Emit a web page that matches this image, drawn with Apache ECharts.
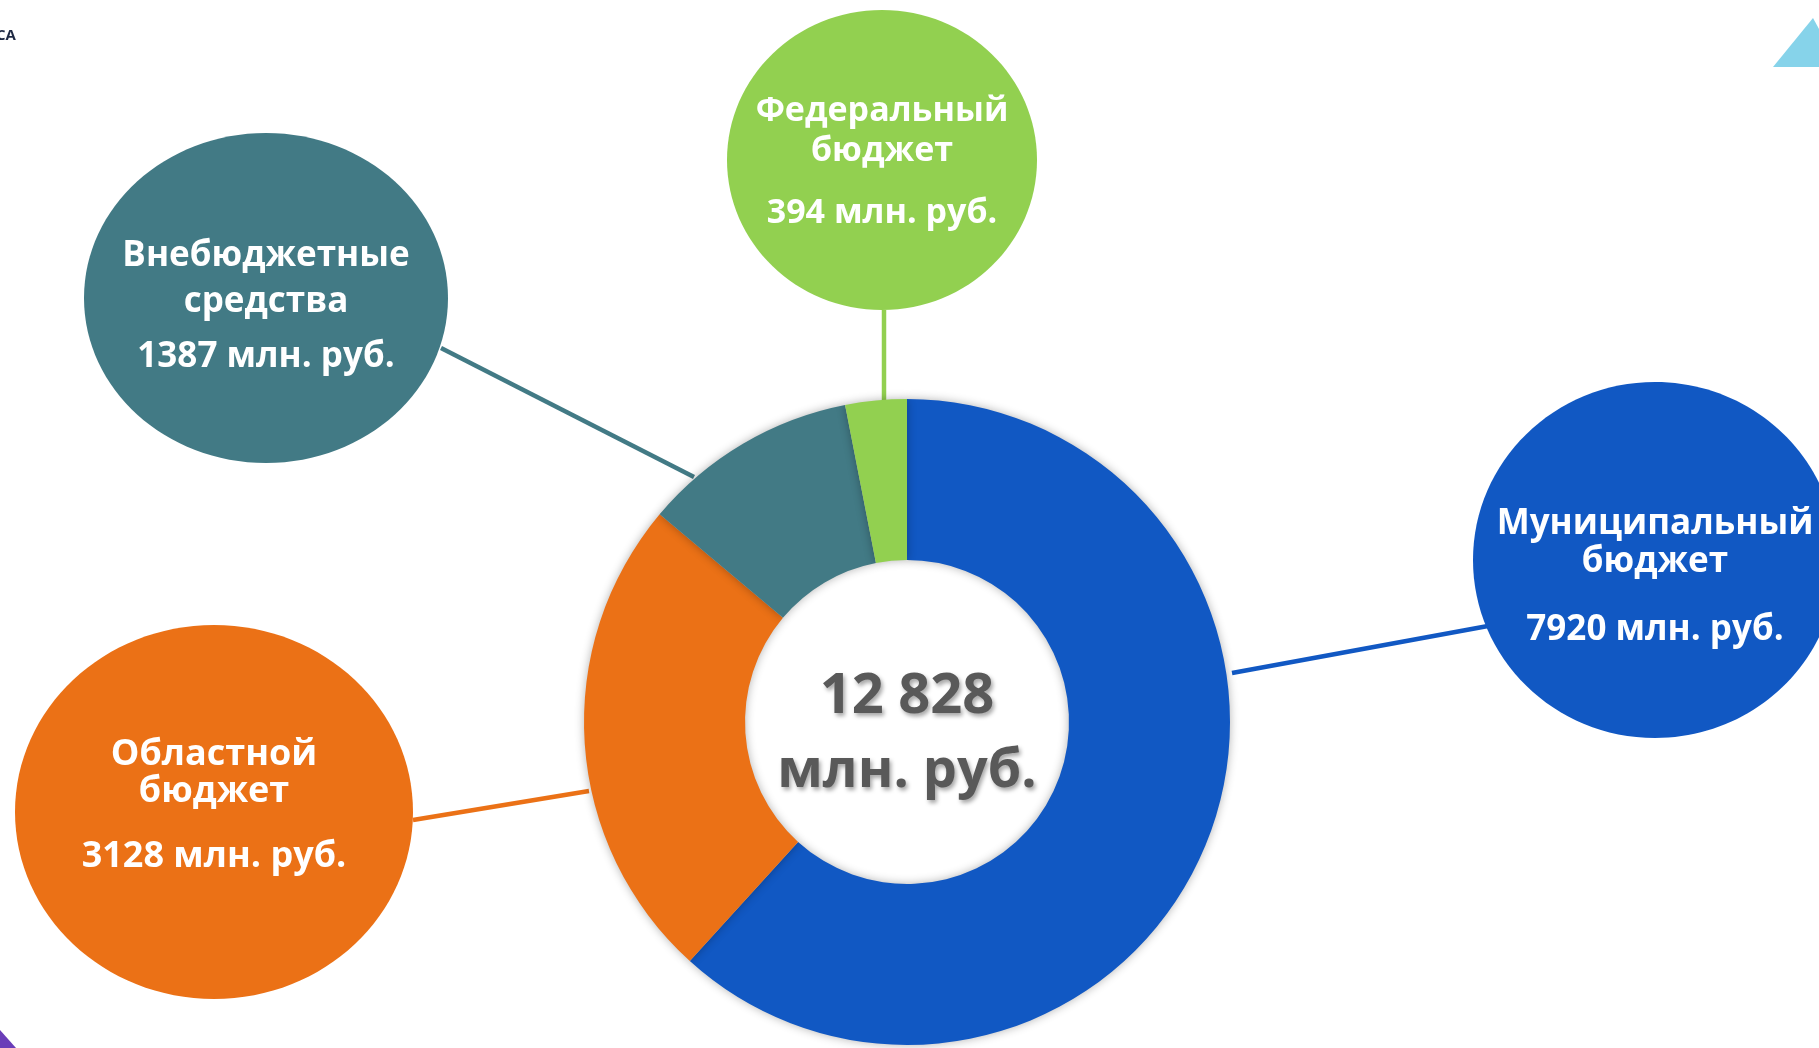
<!DOCTYPE html>
<html><head><meta charset="utf-8">
<script src="https://cdn.jsdelivr.net/npm/echarts@6/dist/echarts.min.js"></script>
<style>html,body{margin:0;padding:0;background:#fff;}#c{width:1819px;height:1048px;}</style>
</head><body><div id="c"></div>
<script>
// ---- data ----
const categories = ['Муниципальный бюджет', 'Областной бюджет', 'Внебюджетные средства', 'Федеральный бюджет'];
const nameLine1 = ['Муниципальный', 'Областной', 'Внебюджетные', 'Федеральный'];
const nameLine2 = ['бюджет', 'бюджет', 'средства', 'бюджет'];
const values = [7920, 3128, 1387, 394];
const unit = 'млн. руб.';
const totalLabel = '12 828';
const colors = ['#1158C3', '#EB7116', '#427A85', '#92D050'];

// ---- layout (positions/sizes) ----
const C = [907, 722], R0 = 162, R1 = 323;
const bubbles = [
  {cx: 1655, cy: 560, rx: 182, ry: 178, y: [524, 562, 630], fs: 35, line: [1232, 673, 1488, 626]},
  {cx: 214, cy: 812, rx: 199, ry: 187, y: [755, 792, 857], fs: 36, line: [413, 820, 589, 791]},
  {cx: 266, cy: 298, rx: 182, ry: 165, y: [256, 302, 357], fs: 35, line: [441, 348, 694, 477]},
  {cx: 882, cy: 160, rx: 155, ry: 150, y: [111, 151, 213], fs: 34, line: [884, 310, 884, 402]}
];
const FONT = '"Open Sans", "Noto Sans", sans-serif';

const graphics = [];
bubbles.forEach((b, i) => {
  graphics.push({type: 'line', z: 1, shape: {x1: b.line[0], y1: b.line[1], x2: b.line[2], y2: b.line[3]},
    style: {stroke: colors[i], lineWidth: 4.5}});
  graphics.push({type: 'ellipse', z: 2, shape: {cx: b.cx, cy: b.cy, rx: b.rx, ry: b.ry}, style: {fill: colors[i]}});
  const lines = [nameLine1[i], nameLine2[i], values[i] + ' ' + unit];
  lines.forEach((t, k) => {
    graphics.push({type: 'text', z: 3, x: b.cx, y: b.y[k],
      style: {text: t, fill: '#fff', fontSize: b.fs, fontWeight: 'bold', fontFamily: FONT, align: 'center', verticalAlign: 'middle'}});
  });
});
// center total
const centerStyle = {fill: '#595959', fontWeight: 'bold', fontFamily: FONT, align: 'center', verticalAlign: 'middle',
  textShadowColor: 'rgba(0,0,0,0.35)', textShadowBlur: 4, textShadowOffsetX: 2, textShadowOffsetY: 3};
graphics.push({type: 'text', z: 5, x: C[0], y: 697, style: Object.assign({text: totalLabel, fontSize: 56}, centerStyle)});
graphics.push({type: 'text', z: 5, x: C[0], y: 772, style: Object.assign({text: unit, fontSize: 54}, centerStyle)});
// small page decorations
graphics.push({type: 'text', z: 3, x: -4, y: 36, style: {text: 'СА', fill: '#1f2a44', fontSize: 15, fontWeight: 'bold', fontFamily: FONT, verticalAlign: 'middle'}});
graphics.push({type: 'polygon', z: 3, shape: {points: [[1773, 67], [1813, 18], [1840, 67]]}, style: {fill: '#86D3EA'}});
graphics.push({type: 'polygon', z: 3, shape: {points: [[0, 1030], [16, 1048], [0, 1048]]}, style: {fill: '#6A3DB8'}});

const chart = echarts.init(document.getElementById('c'), null, {renderer: 'canvas'});
chart.setOption({
  backgroundColor: '#ffffff',
  animation: false,
  series: [{
    type: 'pie', z: 4,
    center: C, radius: [R0, R1],
    startAngle: 90, clockwise: true,
    label: {show: false}, labelLine: {show: false},
    itemStyle: {shadowBlur: 10, shadowColor: 'rgba(0,0,0,0.3)'},
    data: categories.map((n, i) => ({name: n, value: values[i], itemStyle: {color: colors[i]}}))
  }],
  graphic: graphics
});
</script></body></html>
